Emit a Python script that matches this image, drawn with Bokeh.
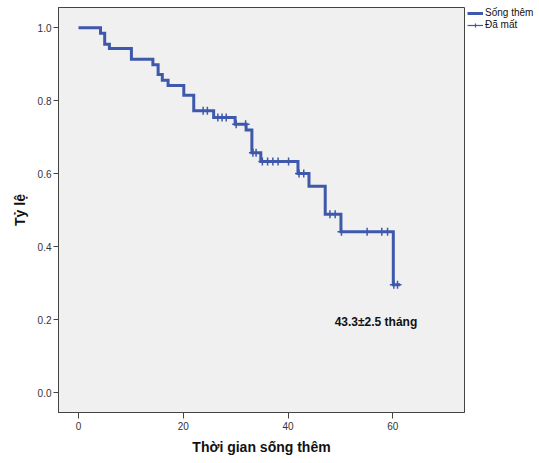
from bokeh.plotting import figure
from bokeh.layouts import row
from bokeh.models import Range1d, Legend, LegendItem, Label, FixedTicker, PrintfTickFormatter
from bokeh.embed import file_html
from bokeh.resources import INLINE

# Kaplan-Meier step curve (time in months, survival proportion)
step_times = [0, 4.2, 5.0, 5.9, 10.1, 14.2, 15.2, 16.0, 17.1, 20.1, 22.0, 25.8, 29.9,
              32.0, 33.1, 34.8, 41.9, 44.0, 47.1, 50.1, 60.1, 61.4]
step_surv = [1.0, 0.985, 0.955, 0.943, 0.914, 0.899, 0.872, 0.856, 0.842, 0.815, 0.773,
             0.754, 0.736, 0.720, 0.658, 0.634, 0.601, 0.566, 0.489, 0.441, 0.296, 0.296]

# Censored observations
cens_times = [23.8, 24.6, 26.6, 27.4, 28.2, 30.1, 31.9, 33.3, 33.9, 35.1, 36.1, 37.1,
              38.1, 40.1, 42.1, 43.0, 48.0, 49.0, 50.2, 55.1, 57.9, 59.0, 60.2, 60.9]
cens_surv = [0.773, 0.773, 0.754, 0.754, 0.754, 0.736, 0.736, 0.658, 0.658, 0.634, 0.634,
             0.634, 0.634, 0.634, 0.601, 0.601, 0.489, 0.489, 0.441, 0.441, 0.441, 0.441,
             0.296, 0.296]

x_ticks = [0, 20, 40, 60]
y_ticks = [0.0, 0.2, 0.4, 0.6, 0.8, 1.0]
series_names = ["Sống thêm", "Đã mất"]
annotation_text = "43.3±2.5 tháng"
x_title = "Thời gian sống thêm"
y_title = "Tỷ lệ"

BLUE = "#3e58ac"
FONT = "Liberation Sans"

p = figure(width=466, height=463, output_backend="svg", toolbar_location=None,
           x_range=Range1d(-3.82, 73.69), y_range=Range1d(-0.0538, 1.0555),
           min_border_left=58, min_border_right=2, min_border_top=6, min_border_bottom=51)

p.background_fill_color = "#f0f0f0"
p.border_fill_color = "white"
p.outline_line_color = "#444444"
p.outline_line_width = 1
p.xgrid.visible = False
p.ygrid.visible = False

step_style = dict(line_width=3, color=BLUE, line_join="miter")
cens_style = dict(marker="cross", size=8, line_width=1.5, color=BLUE)

p.step(step_times, step_surv, mode="after", **step_style)
p.scatter(cens_times, cens_surv, **cens_style)

for ax in (p.xaxis[0], p.yaxis[0]):
    ax.axis_line_color = "#444444"
    ax.major_tick_line_color = "#444444"
    ax.minor_tick_line_color = None
    ax.major_tick_in = 0
    ax.major_label_text_font = FONT
    ax.major_label_text_font_size = "10px"
    ax.major_label_text_color = "#333333"
    ax.axis_label_text_font = FONT
    ax.axis_label_text_font_size = "14px"
    ax.axis_label_text_font_style = "bold"
    ax.axis_label_text_color = "#111111"

p.xaxis.ticker = FixedTicker(ticks=x_ticks)
p.yaxis.ticker = FixedTicker(ticks=y_ticks)
p.yaxis.formatter = PrintfTickFormatter(format="%.1f")
p.xaxis.major_tick_out = 6
p.yaxis.major_tick_out = 5
p.xaxis.major_label_standoff = 3
p.yaxis.major_label_standoff = 2
p.xaxis.axis_label = x_title
p.yaxis.axis_label = y_title
p.xaxis.axis_label_standoff = 6
p.yaxis.axis_label_standoff = 7

p.add_layout(Label(x=48.9, y=0.195, text=annotation_text, text_font=FONT,
                   text_font_size="12px", text_font_style="bold",
                   text_baseline="alphabetic", text_color="#111111"))

# Legend panel to the right of the plot frame (series drawn off-range, only legend shows)
lg = figure(width=73, height=463, output_backend="svg", toolbar_location=None,
            min_border_left=1, min_border_top=7, min_border_right=0, min_border_bottom=0,
            x_range=Range1d(1000, 1001), y_range=Range1d(1000, 1001))
lg.axis.visible = False
lg.grid.visible = False
lg.outline_line_color = None
lg.background_fill_color = "white"
lg.border_fill_color = "white"
leg_step = lg.step(step_times, step_surv, mode="after", **step_style)
leg_cens_line = lg.line(cens_times, cens_surv, line_width=1.2, color=BLUE)
leg_cens = lg.scatter(cens_times, cens_surv, marker="cross", size=8, line_width=1.2,
                      color=BLUE)

legend = Legend(items=[LegendItem(label=series_names[0], renderers=[leg_step]),
                       LegendItem(label=series_names[1], renderers=[leg_cens_line, leg_cens])],
                location="top_left", glyph_width=16, glyph_height=10, label_height=10,
                spacing=1, padding=0, margin=0, label_standoff=2,
                label_text_font=FONT, label_text_font_size="10px",
                label_text_color="#111111",
                border_line_color=None, background_fill_alpha=0)
lg.add_layout(legend, "center")

layout = row(p, lg)
open("out.html", "w").write(file_html(layout, INLINE))
